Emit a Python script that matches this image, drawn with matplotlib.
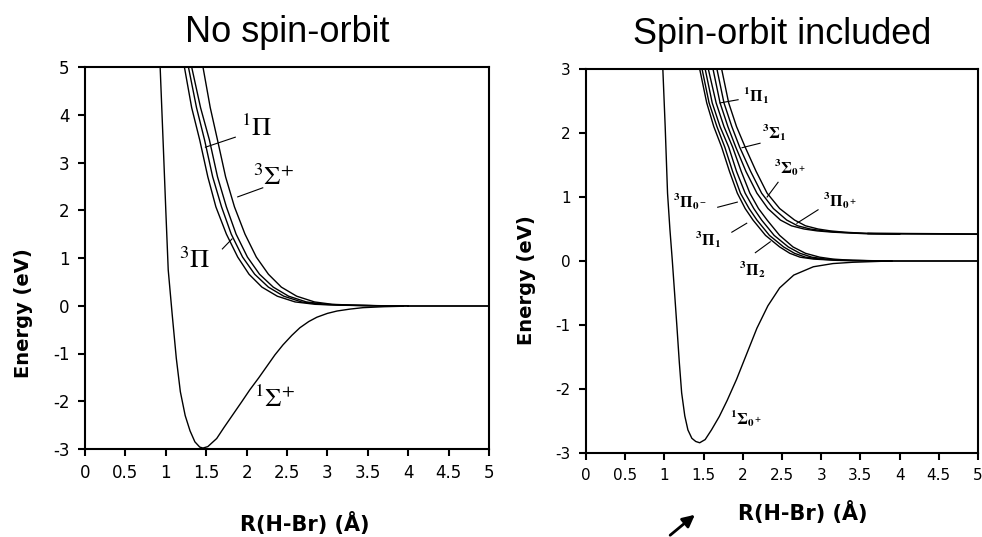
import matplotlib.pyplot as plt

plt.rcParams['mathtext.fontset'] = 'stix'
plt.rcParams['axes.unicode_minus'] = False

# ---- left panel: no spin-orbit ----
r_gs = [0.93, 0.97, 1.00, 1.03, 1.08, 1.13, 1.18, 1.24, 1.30, 1.36, 1.42, 1.46,
        1.52, 1.63, 1.72, 1.83, 1.94, 2.04, 2.15, 2.25, 2.35, 2.45, 2.56, 2.66,
        2.77, 2.87, 3.00, 3.12, 3.28, 3.44, 3.70, 3.94]
e_gs = [5.0, 3.3, 2.0, 0.75, -0.2, -1.1, -1.8, -2.3, -2.62, -2.85, -2.96, -2.98,
        -2.95, -2.78, -2.55, -2.28, -2.01, -1.76, -1.51, -1.27, -1.03, -0.82, -0.62, -0.46,
        -0.33, -0.24, -0.16, -0.11, -0.07, -0.04, -0.02, -0.01]

e_rep = [5.00, 4.15, 3.47, 2.70, 2.07, 1.50, 1.02, 0.66, 0.39, 0.20, 0.08, 0.03, 0.01, 0.0, 0.0]
r_3pi = [1.23, 1.32, 1.42, 1.52, 1.62, 1.75, 1.89, 2.03, 2.19, 2.38, 2.60, 2.85, 3.20, 3.60, 4.00]
r_b = [1.28, 1.38, 1.48, 1.58, 1.69, 1.81, 1.95, 2.10, 2.27, 2.46, 2.68, 2.92, 3.25, 3.62, 4.00]
r_3sig = [1.32, 1.43, 1.54, 1.64, 1.75, 1.87, 2.01, 2.16, 2.33, 2.52, 2.74, 2.98, 3.30, 3.65, 4.00]
r_1pi = [1.46, 1.55, 1.64, 1.74, 1.85, 1.98, 2.12, 2.27, 2.43, 2.62, 2.84, 3.06, 3.36, 3.70, 4.00]
r_tail = [4.00, 5.00]
e_tail = [0.0, 0.0]

left_labels = [r'$^{1}\Pi$', r'$^{3}\Sigma^{+}$', r'$^{3}\Pi$', r'$^{1}\Sigma^{+}$']
left_lab_xy = [(2.12, 3.70), (2.33, 2.68), (1.36, 0.94), (2.35, -1.97)]
left_leaders = [((1.49, 1.86), (3.32, 3.53)), ((1.89, 2.20), (2.28, 2.47)),
                ((1.70, 1.82), (1.19, 1.40))]

# ---- right panel: spin-orbit included ----
r_gs2 = [0.98, 1.01, 1.04, 1.07, 1.10, 1.13, 1.16, 1.19, 1.22, 1.26, 1.30, 1.35, 1.40, 1.45,
         1.52, 1.60, 1.70, 1.80, 1.92, 2.05, 2.18, 2.32, 2.47, 2.65, 2.90, 3.15, 3.40, 3.88]
e_gs2 = [3.0, 2.1, 1.06, 0.5, 0.02, -0.5, -1.03, -1.58, -2.06, -2.42, -2.64, -2.77, -2.82, -2.84,
         -2.79, -2.64, -2.43, -2.18, -1.85, -1.45, -1.05, -0.70, -0.42, -0.22, -0.09, -0.04, -0.02, 0.0]

e_low = [3.0, 2.47, 2.1, 1.78, 1.40, 1.06, 0.82, 0.64, 0.40, 0.22, 0.12, 0.06, 0.03, 0.01, 0.0]
r_l1 = [1.45, 1.54, 1.63, 1.73, 1.83, 1.93, 2.03, 2.13, 2.29, 2.47, 2.60, 2.73, 2.90, 3.20, 3.90]
r_l2 = [1.48, 1.57, 1.67, 1.77, 1.87, 1.97, 2.08, 2.18, 2.34, 2.52, 2.66, 2.80, 2.98, 3.25, 3.90]
r_l3 = [1.52, 1.61, 1.71, 1.82, 1.92, 2.03, 2.14, 2.24, 2.40, 2.58, 2.73, 2.88, 3.06, 3.30, 3.90]
r_l4 = [1.56, 1.66, 1.76, 1.87, 1.98, 2.09, 2.20, 2.31, 2.47, 2.64, 2.80, 2.98, 3.15, 3.40, 3.90]
r_low_tail = [3.90, 5.00]
e_low_tail = [0.0, 0.0]

e_up = [3.0, 2.47, 2.1, 1.78, 1.40, 1.06, 0.82, 0.64, 0.55, 0.50, 0.47, 0.45, 0.43, 0.42]
r_u1 = [1.62, 1.71, 1.81, 1.91, 2.04, 2.18, 2.32, 2.48, 2.62, 2.78, 2.95, 3.15, 3.50, 4.00]
r_u2 = [1.67, 1.76, 1.86, 1.96, 2.10, 2.24, 2.39, 2.56, 2.70, 2.86, 3.03, 3.22, 3.55, 4.00]
r_u3 = [1.73, 1.82, 1.92, 2.03, 2.17, 2.31, 2.47, 2.66, 2.80, 2.96, 3.12, 3.30, 3.60, 5.00]
r_up_tail = [3.60, 5.00]
e_up_tail = [0.43, 0.42]

right_labels = [r'$\mathbf{^{1}\Pi_{1}}$', r'$\mathbf{^{3}\Sigma_{1}}$', r'$\mathbf{^{3}\Sigma_{0^+}}$',
                r'$\mathbf{^{3}\Pi_{0^+}}$', r'$\mathbf{^{3}\Pi_{0^-}}$', r'$\mathbf{^{3}\Pi_{1}}$',
                r'$\mathbf{^{3}\Pi_{2}}$', r'$\mathbf{^{1}\Sigma_{0^+}}$']
right_lab_xy = [(2.17, 2.58), (2.40, 2.00), (2.60, 1.45), (3.24, 0.94),
                (1.33, 0.92), (1.56, 0.33), (2.12, -0.14), (2.04, -2.47)]
right_leaders = [((1.71, 1.94), (2.47, 2.52)), ((1.99, 2.22), (1.77, 1.84)),
                 ((2.45, 2.31), (1.23, 1.00)), ((2.96, 2.69), (0.80, 0.59)),
                 ((1.68, 1.93), (0.84, 0.92)), ((1.86, 2.05), (0.45, 0.59)),
                 ((2.16, 2.35), (0.13, 0.30))]

x_ticks = [0, 0.5, 1, 1.5, 2, 2.5, 3, 3.5, 4, 4.5, 5]
x_ticklabels = ['0', '0.5', '1', '1.5', '2', '2.5', '3', '3.5', '4', '4.5', '5']

fig = plt.figure(figsize=(9.82, 5.37), dpi=100)
W, H = 982, 537
ax1 = fig.add_axes([85 / W, 1 - 449 / H, 404 / W, 382 / H])
ax2 = fig.add_axes([586 / W, 1 - 453 / H, 392 / W, 384 / H])

lw = 1.0
ax1.plot(r_gs, e_gs, color='k', lw=lw)
for r in (r_3pi, r_b, r_3sig, r_1pi):
    ax1.plot(r, e_rep, color='k', lw=lw)
ax1.plot(r_tail, e_tail, color='k', lw=1.3)

for lab, (x, y) in zip(left_labels, left_lab_xy):
    ax1.text(x, y, lab, fontsize=19, ha='center', va='center')
for xs, ys in left_leaders:
    ax1.plot(xs, ys, color='k', lw=0.8)

ax2.plot(r_gs2, e_gs2, color='k', lw=lw)
for r in (r_l1, r_l2, r_l3, r_l4):
    ax2.plot(r, e_low, color='k', lw=lw)
for r in (r_u1, r_u2, r_u3):
    ax2.plot(r, e_up, color='k', lw=lw)
ax2.plot(r_low_tail, e_low_tail, color='k', lw=1.3)
ax2.plot(r_up_tail, e_up_tail, color='k', lw=1.3)

for lab, (x, y) in zip(right_labels, right_lab_xy):
    ax2.text(x, y, lab, fontsize=11.5, ha='center', va='center')
for xs, ys in right_leaders:
    ax2.plot(xs, ys, color='k', lw=0.8)

for ax, ylim, yt, tfs in ((ax1, (-3, 5), range(-3, 6), 12), (ax2, (-3, 3), range(-3, 4), 11)):
    ax.set_xlim(0, 5)
    ax.set_ylim(*ylim)
    ax.set_xticks(x_ticks)
    ax.set_xticklabels(x_ticklabels)
    ax.set_yticks(list(yt))
    ax.tick_params(direction='out', length=5, width=1.5, labelsize=tfs, pad=6)
    for s in ax.spines.values():
        s.set_linewidth(1.5)

ax1.set_title('No spin-orbit', fontsize=26, family='Liberation Sans', pad=18)
ax2.set_title('Spin-orbit included', fontsize=26, family='Liberation Sans', pad=18)

ax1.set_ylabel('Energy (eV)', fontsize=14, fontweight='bold')
ax1.yaxis.set_label_coords(-0.128, 0.356)
ax2.set_ylabel('Energy (eV)', fontsize=14, fontweight='bold')
ax2.yaxis.set_label_coords(-0.127, 0.45)
ax1.set_xlabel('R(H-Br) (Å)', fontsize=15, fontweight='bold')
ax1.xaxis.set_label_coords(0.545, -0.165)
ax2.set_xlabel('R(H-Br) (Å)', fontsize=15, fontweight='bold')
ax2.xaxis.set_label_coords(0.553, -0.125)

ax2.annotate('', xy=(697, 24), xytext=(668, 0), xycoords='figure pixels',
             textcoords='figure pixels',
             arrowprops=dict(arrowstyle='-|>', color='k', lw=2, mutation_scale=18))

fig.savefig('out.png', dpi=100)
